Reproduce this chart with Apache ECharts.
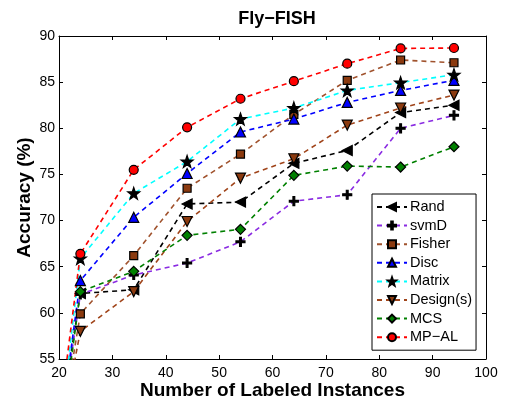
<!DOCTYPE html>
<html>
<head>
<meta charset="utf-8">
<script src="https://cdn.jsdelivr.net/npm/echarts@6/dist/echarts.min.js"></script>
<style>
  html, body { margin: 0; padding: 0; background: #fff; }
  #chart { width: 508px; height: 401px; }
</style>
</head>
<body>
<div id="chart"></div>
<script>
// labeled instances (first point lies below the visible axis range)
var instances = [20, 24, 34, 44, 54, 64, 74, 84, 94];

var seriesNames = ['Rand', 'svmD', 'Fisher', 'Disc', 'Matrix', 'Design(s)', 'MCS', 'MP\u2212AL'];

var rand    = [47.2, 62.1, 62.5, 71.8, 72.0, 76.2, 77.6, 81.7, 82.5];
var svmD    = [46.4, 62.0, 64.1, 65.4, 67.7, 72.1, 72.8, 80.0, 81.4];
var fisher  = [45.9, 59.9, 66.2, 73.5, 77.2, 81.5, 85.2, 87.4, 87.1];
var disc    = [46.5, 63.5, 70.35, 75.1, 79.6, 81.0, 82.8, 84.1, 85.2];
var matrix  = [46.1, 65.9, 72.95, 76.4, 81.0, 82.2, 84.1, 84.95, 85.8];
var designs = [46.0, 58.0, 62.3, 69.9, 74.6, 76.7, 80.35, 82.2, 83.6];
var mcs     = [45.1, 62.3, 64.5, 68.4, 69.05, 74.9, 75.9, 75.8, 78.0];
var mpal    = [48.2, 66.4, 75.5, 80.1, 83.2, 85.1, 87.0, 88.65, 88.7];

var STAR = 'path://M0,-10 L2.35,-3.24 L9.51,-3.09 L3.8,1.24 L5.88,8.09 L0,4 L-5.88,8.09 L-3.8,1.24 L-9.51,-3.09 L-2.35,-3.24 Z';
var PLUS = 'path://M-1,-5 L1,-5 L1,-1 L5,-1 L5,1 L1,1 L1,5 L-1,5 L-1,1 L-5,1 L-5,-1 L-1,-1 Z';

// line colour, marker fill, marker shape, rotate, size
var styles = [
    { line: '#000000', fill: '#000000', symbol: 'triangle', rotate: 90, size: 10 },
    { line: '#8a2be2', fill: '#000000', symbol: PLUS, rotate: 0, size: 9 },
    { line: '#a0522d', fill: '#8b3a0f', symbol: 'rect', rotate: 0, size: 8 },
    { line: '#0000ff', fill: '#0000ff', symbol: 'triangle', rotate: 0, size: 10 },
    { line: '#00ffff', fill: '#000000', symbol: STAR, rotate: 0, size: 12 },
    { line: '#a0441a', fill: '#8b3a0f', symbol: 'triangle', rotate: 180, size: 10 },
    { line: '#008000', fill: '#008000', symbol: 'diamond', rotate: 0, size: 10 },
    { line: '#ff0000', fill: '#ff0000', symbol: 'circle', rotate: 0, size: 9 }
];

var allData = [rand, svmD, fisher, disc, matrix, designs, mcs, mpal];

var FONT = '"Liberation Sans", Arial, Helvetica, sans-serif';

var myChart = echarts.init(document.getElementById('chart'));

var series = [];
for (var i = 0; i < allData.length; i++) {
    var s = styles[i];
    var pts = [];
    for (var j = 0; j < instances.length; j++) {
        if (j == 0) {
            pts.push({ value: [instances[j], allData[i][j]], symbol: 'none' });
        } else {
            pts.push([instances[j], allData[i][j]]);
        }
    }
    series.push({
        name: seriesNames[i],
        type: 'line',
        data: pts,
        clip: true,
        symbol: s.symbol,
        symbolSize: s.size,
        symbolRotate: s.rotate,
        showAllSymbol: true,
        lineStyle: { color: s.line, width: 1.6, type: [5, 4] },
        itemStyle: { color: s.fill, borderColor: '#000000', borderWidth: 1.2 },
        emphasis: { disabled: true },
        animation: false
    });
}

var option = {
    animation: false,
    title: {
        text: 'Fly\u2212FISH',
        left: 272,
        textAlign: 'center',
        top: 5,
        textStyle: { fontFamily: FONT, fontSize: 18, fontWeight: 'bold', color: '#000' }
    },
    grid: { left: 59, right: 22, top: 36, bottom: 42, outerBoundsMode: 'none' },
    legend: {
        orient: 'vertical',
        left: 372,
        top: 194,
        itemWidth: 30,
        itemHeight: 10,
        itemGap: 2.6,
        padding: [5, 4, 5, 4],
        borderColor: '#000',
        borderWidth: 1,
        backgroundColor: '#fff',
        textStyle: { fontFamily: FONT, fontSize: 14.5, lineHeight: 16, color: '#000', padding: [0, 0, 0, -2] },
        data: seriesNames
    },
    xAxis: [{
        type: 'value',
        min: 20, max: 100, interval: 10,
        name: 'Number of Labeled Instances',
        nameLocation: 'middle',
        nameGap: 22,
        nameMoveOverlap: false,
        nameTextStyle: { fontFamily: FONT, fontSize: 19, fontWeight: 'bold', color: '#000', verticalAlign: 'top' },
        axisLine: { lineStyle: { color: '#000', width: 1 } },
        axisTick: { inside: true, length: 4, lineStyle: { color: '#000' } },
        axisLabel: { fontFamily: FONT, fontSize: 14, color: '#000', margin: 7 },
        splitLine: { show: false }
    }, {
        type: 'value', position: 'top',
        min: 20, max: 100, interval: 10,
        axisLine: { lineStyle: { color: '#000', width: 1 } },
        axisTick: { inside: true, length: 4, lineStyle: { color: '#000' } },
        axisLabel: { show: false },
        splitLine: { show: false }
    }],
    yAxis: [{
        type: 'value',
        min: 55, max: 90, interval: 5,
        name: 'Accuracy (%)',
        nameLocation: 'middle',
        nameGap: 25,
        nameMoveOverlap: false,
        nameTextStyle: { fontFamily: FONT, fontSize: 19, fontWeight: 'bold', color: '#000' },
        axisLine: { show: true, lineStyle: { color: '#000', width: 1 } },
        axisTick: { show: true, inside: true, length: 4, lineStyle: { color: '#000' } },
        axisLabel: { fontFamily: FONT, fontSize: 14, color: '#000', margin: 4 },
        splitLine: { show: false }
    }, {
        type: 'value', position: 'right',
        min: 55, max: 90, interval: 5,
        axisLine: { show: true, lineStyle: { color: '#000', width: 1 } },
        axisTick: { show: true, inside: true, length: 4, lineStyle: { color: '#000' } },
        axisLabel: { show: false },
        splitLine: { show: false }
    }],
    series: series
};

myChart.setOption(option);
</script>
</body>
</html>
